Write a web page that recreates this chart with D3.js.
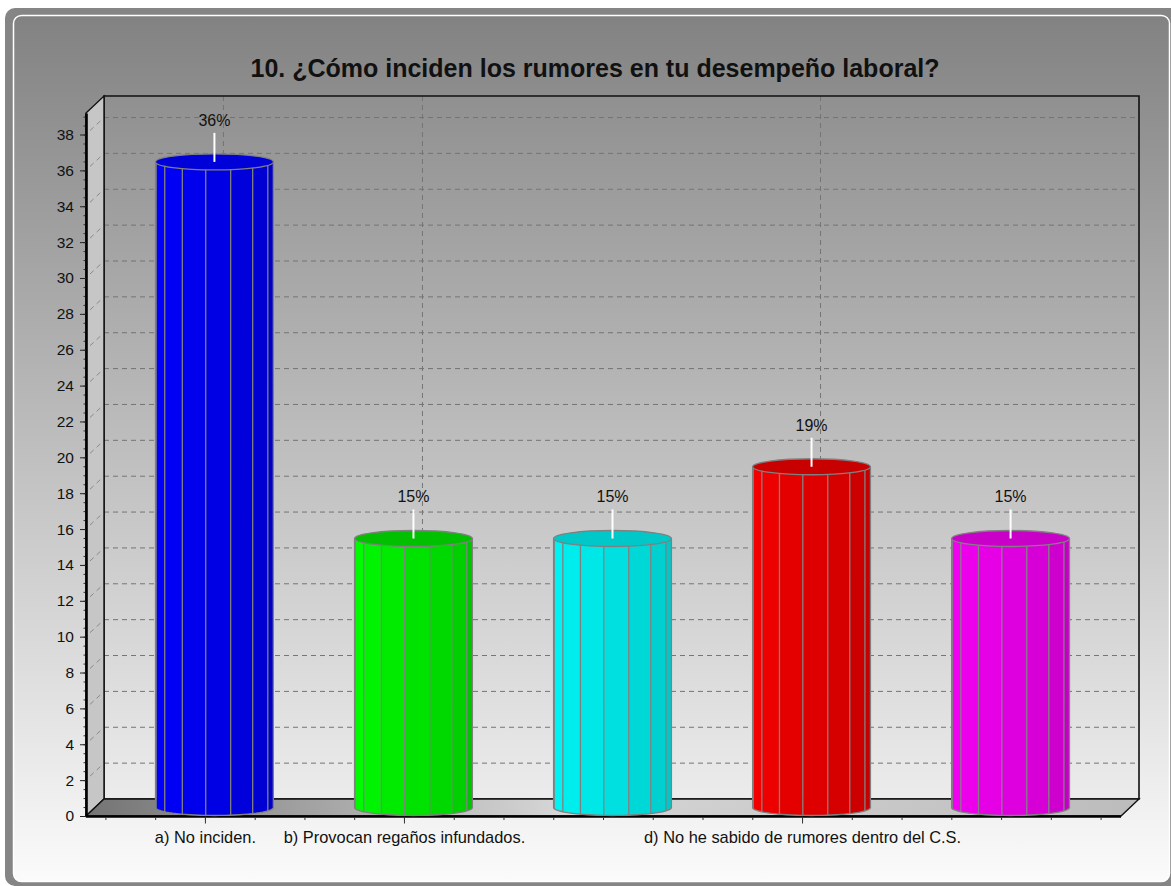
<!DOCTYPE html>
<html>
<head>
<meta charset="utf-8">
<script src="https://cdn.jsdelivr.net/npm/d3@7"></script>
<style>
  html, body { margin: 0; padding: 0; background: #ffffff; }
  svg { display: block; font-family: "Liberation Sans", Arial, sans-serif; }
</style>
</head>
<body>
<script>
// ---- data ----
const categoryKeys = ["a", "b", "c", "d", "e"];
const categoryLabels = ["a) No inciden.", "b) Provocan regaños infundados.", "", "d) No he sabido de rumores dentro del C.S.", ""];
const values = [36, 15, 15, 19, 15];
const valueLabels = ["36%", "15%", "15%", "19%", "15%"];
const yTickValues = [0, 2, 4, 6, 8, 10, 12, 14, 16, 18, 20, 22, 24, 26, 28, 30, 32, 34, 36, 38];
const yMax = 39.2;
const titleText = "10. ¿Cómo inciden los rumores en tu desempeño laboral?";

// cylinder colours: lit side, shaded side, top cap
const bodyLight = ["#0000ff", "#00ff00", "#00f6f6", "#f60000", "#f600f6"];
const bodyDark  = ["#0000c8", "#00c400", "#00c8c8", "#c40000", "#c400c4"];
const capColor  = ["#0000d8", "#00c000", "#00c8c8", "#c80000", "#c800c8"];

// ---- layout ----
const W = 1171, H = 886;
const depthX = 18, depthY = 17;          // 3-D depth offset of the back wall
const front = { left: 86, right: 1121, bottom: 816, top: 113 };

const svg = d3.select("body").append("svg").attr("width", W).attr("height", H);
const defs = svg.append("defs");

const panelGrad = defs.append("linearGradient").attr("id", "panelGrad")
  .attr("x1", 0).attr("y1", 0).attr("x2", 0).attr("y2", 1);
panelGrad.append("stop").attr("offset", 0).attr("stop-color", "#828282");
panelGrad.append("stop").attr("offset", 1).attr("stop-color", "#fbfbfb");

const wallGrad = defs.append("linearGradient").attr("id", "wallGrad")
  .attr("x1", 0).attr("y1", 0).attr("x2", 0).attr("y2", 1);
wallGrad.append("stop").attr("offset", 0).attr("stop-color", "#909090");
wallGrad.append("stop").attr("offset", 1).attr("stop-color", "#ececec");

const floorGrad = defs.append("linearGradient").attr("id", "floorGrad")
  .attr("x1", 0).attr("y1", 0).attr("x2", 1).attr("y2", 0);
floorGrad.append("stop").attr("offset", 0).attr("stop-color", "#747474");
floorGrad.append("stop").attr("offset", 0.45).attr("stop-color", "#d6d6d6");
floorGrad.append("stop").attr("offset", 1).attr("stop-color", "#bcbcbc");

// ---- panel frame ----
svg.append("rect").attr("x", 5).attr("y", 8).attr("width", 1180).attr("height", 878)
  .attr("rx", 10).attr("fill", "#858585");
svg.append("rect").attr("x", 13.5).attr("y", 15.5).attr("width", 1156).attr("height", 866)
  .attr("rx", 8).attr("fill", "url(#panelGrad)").attr("stroke", "#ffffff").attr("stroke-width", 1.5);

// ---- title ----
svg.append("text").attr("x", 595).attr("y", 77).attr("text-anchor", "middle")
  .attr("font-size", 25).attr("font-weight", "bold").attr("fill", "#111")
  .text(titleText);

// ---- scales ----
const x = d3.scaleBand().domain(categoryKeys).range([front.left, front.right])
  .paddingInner(0).paddingOuter(0.1);
const yFront = d3.scaleLinear().domain([0, yMax]).range([front.bottom, front.top]);
const yBack = v => yFront(v) - depthY;
const yMid = v => yFront(v) - depthY / 2;
const cx = k => x(k) + x.bandwidth() / 2;

const backLeft = front.left + depthX, backRight = front.right + depthX;

// ---- back wall ----
svg.append("rect").attr("x", backLeft).attr("y", yBack(yMax))
  .attr("width", backRight - backLeft).attr("height", yBack(0) - yBack(yMax))
  .attr("fill", "url(#wallGrad)");

// horizontal gridlines on back wall
const gridVals = yTickValues.filter(v => v > 0);
svg.append("g").selectAll("line").data(gridVals).join("line")
  .attr("x1", backLeft).attr("x2", backRight)
  .attr("y1", d => yBack(d)).attr("y2", d => yBack(d))
  .attr("stroke", "#747474").attr("stroke-width", 1).attr("stroke-dasharray", "5,4");

// vertical gridlines at labelled categories
const labelled = categoryKeys.filter((k, i) => categoryLabels[i] !== "");
svg.append("g").selectAll("line").data(labelled).join("line")
  .attr("x1", d => cx(d) + depthX).attr("x2", d => cx(d) + depthX)
  .attr("y1", yBack(yMax)).attr("y2", yBack(0))
  .attr("stroke", "#747474").attr("stroke-width", 1).attr("stroke-dasharray", "5,4");

// back wall outline
svg.append("path")
  .attr("d", `M${backLeft},${yBack(0)}V${yBack(yMax)}H${backRight}V${yBack(0)}Z`)
  .attr("fill", "none").attr("stroke", "#111").attr("stroke-width", 1.6);

// ---- left side wall ----
svg.append("path")
  .attr("d", `M${front.left},${yFront(0)}L${front.left},${yFront(yMax)}L${backLeft},${yBack(yMax)}L${backLeft},${yBack(0)}Z`)
  .attr("fill", "#c6c6c6").attr("stroke", "#111").attr("stroke-width", 1.4);

svg.append("g").selectAll("line").data(gridVals).join("line")
  .attr("x1", front.left + 4).attr("y1", d => yFront(d) - 4)
  .attr("x2", backLeft - 2).attr("y2", d => yBack(d) + 2)
  .attr("stroke", "#8a8a8a").attr("stroke-width", 1).attr("stroke-dasharray", "5,4");

// ---- floor ----
svg.append("path")
  .attr("d", `M${front.left},${yFront(0)}L${backLeft},${yBack(0)}L${backRight},${yBack(0)}L${front.right},${yFront(0)}Z`)
  .attr("fill", "url(#floorGrad)").attr("stroke", "#111").attr("stroke-width", 1.4);
svg.append("line").attr("x1", front.left).attr("x2", front.right)
  .attr("y1", yFront(0) + 0.5).attr("y2", yFront(0) + 0.5)
  .attr("stroke", "#000").attr("stroke-width", 2.5);

// ---- y axis ----
const yMinor = d3.range(0, yMax, 0.5);
svg.append("g").attr("transform", `translate(${front.left},0)`)
  .call(d3.axisLeft(yFront).tickValues(yMinor).tickSize(2.5).tickFormat("").tickSizeOuter(0))
  .call(g => g.select(".domain").remove())
  .call(g => g.selectAll(".tick line").attr("stroke", "#333"));

svg.append("g").attr("transform", `translate(${front.left},0)`)
  .call(d3.axisLeft(yFront).tickValues(yTickValues).tickSize(6).tickPadding(6).tickSizeOuter(0))
  .call(g => g.select(".domain").attr("stroke", "#000").attr("stroke-width", 2.6))
  .call(g => g.selectAll(".tick line").attr("stroke", "#222"))
  .call(g => g.selectAll(".tick text").attr("font-size", 15.5)
      .attr("font-family", "Liberation Sans, Arial, sans-serif").attr("fill", "#111"));

// ---- x axis ----
const quarterTicks = [];
categoryKeys.forEach(k => { for (let q = 0; q < 4; q++) quarterTicks.push(x(k) + x.step() * q / 4); });
quarterTicks.push(x(categoryKeys[categoryKeys.length - 1]) + x.step());
svg.append("g").selectAll("line").data(quarterTicks).join("line")
  .attr("x1", d => d).attr("x2", d => d)
  .attr("y1", yFront(0) + 1).attr("y2", yFront(0) + 4)
  .attr("stroke", "#333");

const labelOf = k => categoryLabels[categoryKeys.indexOf(k)];
svg.append("g").attr("transform", `translate(0,${yFront(0) + 0.5})`)
  .call(d3.axisBottom(x).tickValues(labelled).tickSize(7).tickPadding(8).tickFormat(labelOf))
  .call(g => g.select(".domain").remove())
  .call(g => g.selectAll(".tick line").attr("stroke", "#333"))
  .call(g => g.selectAll(".tick text").attr("font-size", 16.4)
      .attr("font-family", "Liberation Sans, Arial, sans-serif").attr("fill", "#111"));

// ---- cylinders ----
const rx = x.step() * 0.296, ry = 8;
const facetAngles = d3.range(8, 180, 24.5).filter(a => a > 3 && a < 177);
const edges = [0, ...facetAngles, 180];
const rad = a => a * Math.PI / 180;

const bars = svg.append("g");
categoryKeys.forEach((k, i) => {
  const c = cx(k) + depthX / 2;
  const yt = yMid(values[i]);
  const yb = yMid(0);
  const px = a => c - rx * Math.cos(rad(a));
  const g = bars.append("g");
  const shade = d3.interpolateRgb(bodyLight[i], bodyDark[i]);

  // facet strips
  for (let s = 0; s < edges.length - 1; s++) {
    const a0 = edges[s], a1 = edges[s + 1];
    const pts = [[px(a0), yt], [px(a1), yt]];
    for (let a = a1; a >= a0 - 1e-6; a -= (a1 - a0) / 8) pts.push([px(a), yb + ry * Math.sin(rad(a))]);
    g.append("path").attr("d", d3.line()(pts) + "Z")
      .attr("fill", shade(Math.pow(s / (edges.length - 2), 1.3)));
  }
  // facet edge lines
  facetAngles.forEach(a => {
    g.append("line").attr("x1", px(a)).attr("x2", px(a))
      .attr("y1", yt + ry * Math.sin(rad(a))).attr("y2", yb + ry * Math.sin(rad(a)))
      .attr("stroke", "#808080").attr("stroke-width", 1.3);
  });
  // outline of body
  const arc = d3.range(0, 181, 5).map(a => [px(a), yb + ry * Math.sin(rad(a))]);
  g.append("path").attr("d", `M${px(0)},${yt}` + d3.line()(arc).replace("M", "L") + `L${px(180)},${yt}`)
    .attr("fill", "none").attr("stroke", "#808080").attr("stroke-width", 1.3);
  // cap
  g.append("ellipse").attr("cx", c).attr("cy", yt).attr("rx", rx).attr("ry", ry)
    .attr("fill", capColor[i]).attr("stroke", "#808080").attr("stroke-width", 1.3);
  // leader line and value label
  g.append("line").attr("x1", c).attr("x2", c).attr("y1", yt - 29).attr("y2", yt)
    .attr("stroke", "#ffffff").attr("stroke-width", 2);
  g.append("text").attr("x", c).attr("y", yt - 36).attr("text-anchor", "middle")
    .attr("font-size", 16).attr("fill", "#111").text(valueLabels[i]);
});
</script>
</body>
</html>
